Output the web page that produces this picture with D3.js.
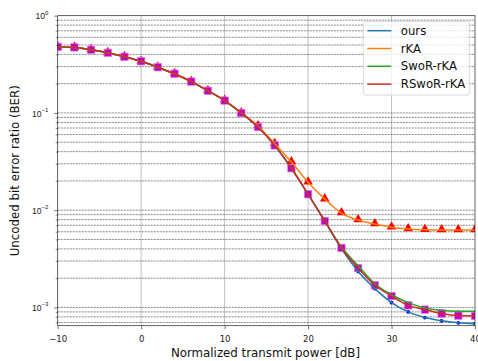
<!DOCTYPE html>
<html>
<head>
<meta charset="utf-8">
<script src="https://cdn.jsdelivr.net/npm/d3@7"></script>
<style>
  body { margin: 0; background: #fff; }
  svg { font-family: "DejaVu Sans", sans-serif; }
</style>
</head>
<body>
<svg id="chart" width="478" height="361"></svg>
<script>
// transmit power [dB]
const powerDb = [-10, -8, -6, -4, -2, 0, 2, 4, 6, 8, 10, 12, 14, 16, 18, 20, 22, 24, 26, 28, 30, 32, 34, 36, 38, 40];

const berOurs = [0.478, 0.472, 0.446, 0.415, 0.378, 0.340, 0.295, 0.253, 0.210, 0.169, 0.134, 0.0998, 0.0717, 0.0464, 0.0270, 0.0146, 0.00773, 0.00400,
  0.00234, 0.00156, 0.00112, 0.000899, 0.000787, 0.000728, 0.000694, 0.000678];
const berRka = [0.478, 0.472, 0.446, 0.415, 0.378, 0.340, 0.295, 0.253, 0.210, 0.169, 0.134, 0.1000, 0.0735, 0.0483, 0.0313, 0.0194, 0.0130, 0.00934,
  0.00792, 0.00721, 0.00667, 0.00641, 0.00630, 0.00626, 0.00626, 0.00626];
const berSwor = [0.478, 0.472, 0.446, 0.415, 0.378, 0.340, 0.295, 0.253, 0.210, 0.169, 0.134, 0.0998, 0.0717, 0.0464, 0.0270, 0.0146, 0.00780, 0.00418,
  0.00268, 0.00175, 0.00135, 0.00112, 0.000988, 0.000933, 0.000912, 0.000912];
const berRswor = [0.478, 0.472, 0.446, 0.415, 0.378, 0.340, 0.295, 0.253, 0.210, 0.169, 0.134, 0.0998, 0.0717, 0.0464, 0.0270, 0.0146, 0.00773, 0.00409,
  0.00254, 0.00169, 0.00131, 0.00105, 0.000950, 0.000865, 0.000824, 0.000818];

const seriesNames = ["ours", "rKA", "SwoR-rKA", "RSwoR-rKA"];
const seriesColors = ["#1f77b4", "#ff7f0e", "#2ca02c", "#d62728"];
const xTicks = [-10, 0, 10, 20, 30, 40];
const yMajor = [1, 1e-1, 1e-2, 1e-3];

const svg = d3.select("#chart");
const plot = {left: 57.7, right: 475, top: 15.7, bottom: 325.7};

const x = d3.scaleLinear().domain([-10, 40]).range([plot.left, plot.right]);
const y = d3.scaleLog().domain([6.49e-4, 1]).range([plot.bottom, plot.top]);

// grid
let yMinor = [];
for (let e = -4; e <= -1; e++) {
  for (let m = 1; m <= 9; m++) {
    let v = m * Math.pow(10, e);
    if (v >= y.domain()[0] && v < 1) yMinor.push(v);
  }
}
svg.append("g").selectAll("line").data(xTicks.slice(1, -1)).enter().append("line")
  .attr("x1", d => x(d)).attr("x2", d => x(d))
  .attr("y1", plot.top).attr("y2", plot.bottom)
  .attr("stroke", "#b0b0b0").attr("stroke-width", 0.8);
svg.append("g").selectAll("line").data(yMinor).enter().append("line")
  .attr("x1", plot.left).attr("x2", plot.right)
  .attr("y1", d => y(d)).attr("y2", d => y(d))
  .attr("stroke", "#555").attr("stroke-width", 0.7)
  .attr("stroke-dasharray", "2,1");

// clip for data
svg.append("clipPath").attr("id", "clip").append("rect")
  .attr("x", plot.left).attr("y", plot.top)
  .attr("width", plot.right - plot.left).attr("height", plot.bottom - plot.top);
const data = svg.append("g").attr("clip-path", "url(#clip)");

const line = d3.line().x((d, i) => x(powerDb[i])).y(d => y(d)).curve(d3.curveMonotoneX);

// blue dots (ours markers)
data.append("g").selectAll("circle").data(berOurs).enter().append("circle")
  .attr("cx", (d, i) => x(powerDb[i])).attr("cy", d => y(d)).attr("r", 1.9)
  .attr("fill", "#0000ff");

// small green dots
data.append("g").selectAll("circle").data(berSwor).enter().append("circle")
  .attr("cx", (d, i) => x(powerDb[i])).attr("cy", d => y(d)).attr("r", 1.2)
  .attr("fill", "#1a7a1a");

// triangles (rKA markers)
const tri = d3.symbol().type(d3.symbolTriangle).size(40);
data.append("g").selectAll("path").data(berRka).enter().append("path")
  .attr("d", tri)
  .attr("transform", (d, i) => "translate(" + x(powerDb[i]) + "," + (y(d) - 0.5) + ")")
  .attr("fill", "#ff0000");

// squares (RSwoR-rKA markers)
data.append("g").selectAll("rect").data(berRswor).enter().append("rect")
  .attr("x", (d, i) => x(powerDb[i]) - 3.7).attr("y", d => y(d) - 3.7)
  .attr("width", 7.4).attr("height", 7.4)
  .attr("fill", "#c000c0").attr("stroke", "#e878e8").attr("stroke-width", 0.7);

[berOurs, berRka, berSwor, berRswor].forEach((s, k) => {
  data.append("path").datum(s).attr("d", line)
    .attr("fill", "none").attr("stroke", seriesColors[k]).attr("stroke-width", 1.5);
});

// axes
const xAxis = svg.append("g").attr("transform", "translate(0," + plot.bottom + ")")
  .call(d3.axisBottom(x).tickValues(xTicks).tickSize(3.6).tickPadding(6.4)
    .tickFormat(d => String(d).replace("-", "\u2212")));
xAxis.select(".domain").remove();
xAxis.selectAll("text").attr("font-size", 8.6).attr("fill", "#222").attr("font-family", "DejaVu Sans");
xAxis.selectAll("line").attr("stroke", "#222").attr("stroke-width", 0.6);

const yAxisMinor = svg.append("g").attr("transform", "translate(" + plot.left + ",0)")
  .call(d3.axisLeft(y).tickValues(yMinor.filter(v => yMajor.indexOf(v) < 0)).tickSize(2).tickFormat(""));
yAxisMinor.select(".domain").remove();
yAxisMinor.selectAll("line").attr("stroke", "#222").attr("stroke-width", 0.5);

const yAxis = svg.append("g").attr("transform", "translate(" + plot.left + ",0)")
  .call(d3.axisLeft(y).tickValues(yMajor).tickSize(3.6).tickFormat(""));
yAxis.select(".domain").remove();
yAxis.selectAll("line").attr("stroke", "#222").attr("stroke-width", 0.6);
yAxis.selectAll(".tick").each(function(d) {
  const t = d3.select(this).append("text")
    .attr("x", -9.4).attr("dy", "0.38em").attr("text-anchor", "end")
    .attr("font-size", 8.6).attr("fill", "#222");
  t.append("tspan").text("10");
  t.append("tspan").attr("font-size", 6).attr("dy", "-0.8em")
    .text(String(Math.round(Math.log10(d))).replace("-", "\u2212"));
});

// frame
svg.append("rect").attr("x", plot.left).attr("y", plot.top)
  .attr("width", plot.right - plot.left).attr("height", plot.bottom - plot.top)
  .attr("fill", "none").attr("stroke", "#222").attr("stroke-width", 0.7);

// labels
svg.append("text").attr("x", 265.5).attr("y", 357)
  .attr("text-anchor", "middle").attr("font-size", 11.8).attr("fill", "#111")
  .text("Normalized transmit power [dB]");
svg.append("text").attr("transform", "translate(18.5," + ((plot.top + plot.bottom) / 2) + ") rotate(-90)")
  .attr("text-anchor", "middle").attr("font-size", 11.8).attr("fill", "#111")
  .text("Uncoded bit error ratio (BER)");

// legend
const lg = svg.append("g").attr("transform", "translate(363.3,21.7)");
lg.append("rect").attr("width", 106).attr("height", 73.3).attr("rx", 2)
  .attr("fill", "rgba(255,255,255,0.8)").attr("stroke", "#d0d0d0").attr("stroke-width", 0.8);
seriesNames.forEach((name, k) => {
  const yy = 9 + k * 17.8;
  lg.append("line").attr("x1", 4).attr("x2", 28).attr("y1", yy).attr("y2", yy)
    .attr("stroke", seriesColors[k]).attr("stroke-width", 1.5);
  lg.append("text").attr("x", 37.5).attr("y", yy).attr("dy", "0.36em")
    .attr("font-size", 11.7).attr("fill", "#111").text(name);
});
</script>
</body>
</html>
